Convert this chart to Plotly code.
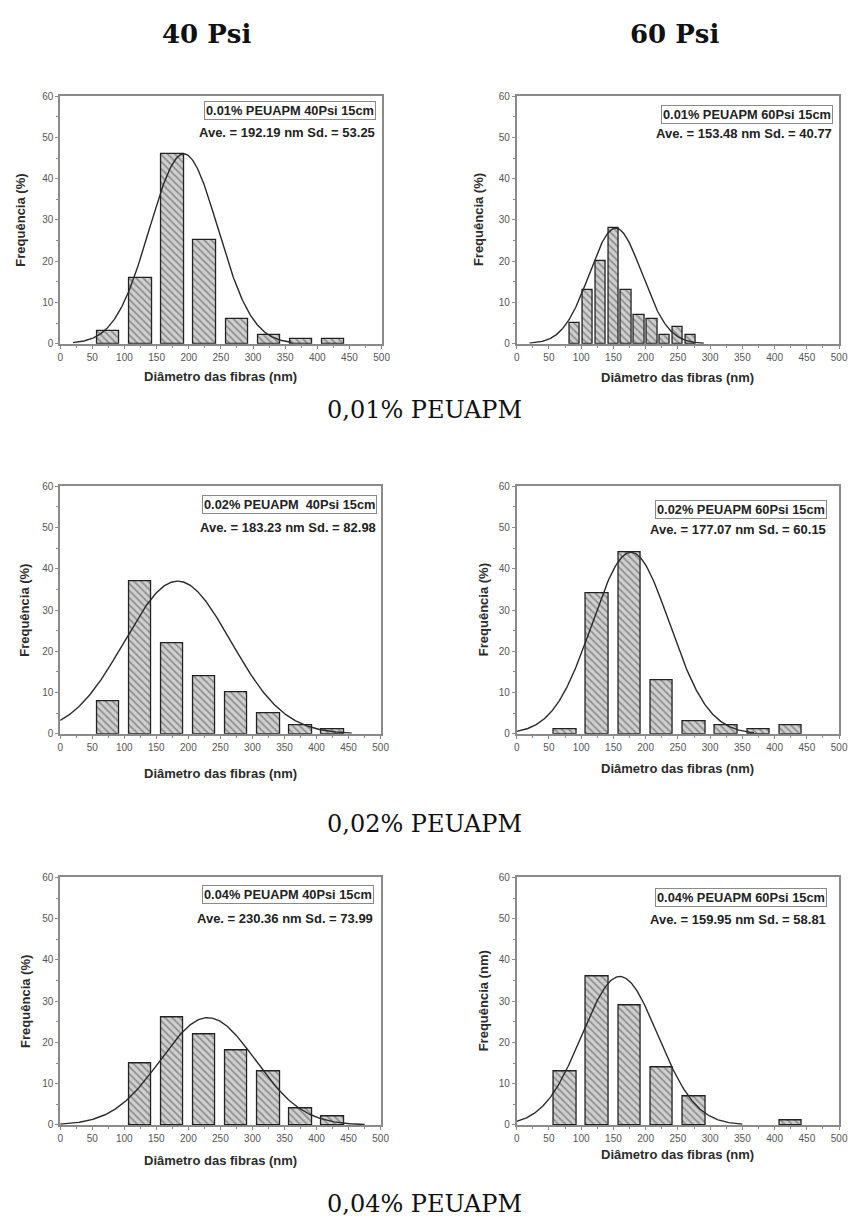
import numpy as np
import plotly.graph_objects as go

W, H = 855, 1229

# ---- data -------------------------------------------------------------
centers_50 = [75, 125, 175, 225, 275, 325, 375, 425]
centers_20 = [90, 110, 130, 150, 170, 190, 210, 230, 250, 270]
centers_004_40 = [125, 175, 225, 275, 325, 375, 425]
centers_004_60 = [75, 125, 175, 225, 275, 425]

freq_001_40 = [3, 16, 46, 25, 6, 2, 1, 1]
freq_001_60 = [5, 13, 20, 28, 13, 7, 6, 2, 4, 2]
freq_002_40 = [8, 37, 22, 14, 10, 5, 2, 1]
freq_002_60 = [1, 34, 44, 13, 3, 2, 1, 2]
freq_004_40 = [15, 26, 22, 18, 13, 4, 2]
freq_004_60 = [13, 36, 29, 14, 7, 1]

# Gaussian fits: mean, standard deviation, peak height, x-range drawn
fit_mean = [192.19, 153.48, 183.23, 177.07, 230.36, 159.95]
fit_sd = [53.25, 40.77, 82.98, 60.15, 73.99, 58.81]
fit_peak = [46, 28, 37, 44, 26, 36]
fit_start = [20, 20, 0, 0, 0, 0]
fit_end = [360, 290, 455, 368, 475, 350]

sample_labels = [
    "0.01% PEUAPM 40Psi 15cm",
    "0.01% PEUAPM 60Psi 15cm",
    "0.02% PEUAPM\u00a0 40Psi 15cm",
    "0.02% PEUAPM 60Psi 15cm",
    "0.04% PEUAPM 40Psi 15cm",
    "0.04% PEUAPM 60Psi 15cm",
]
y_titles = ["Frequência (%)"] * 5 + ["Frequência (nm)"]
x_title = "Diâmetro das fibras (nm)"
column_titles = ["40 Psi", "60 Psi"]
row_captions = ["0,01% PEUAPM", "0,02% PEUAPM", "0,04% PEUAPM"]

bar_centers = [centers_50, centers_20, centers_50, centers_50, centers_004_40, centers_004_60]
bar_values = [freq_001_40, freq_001_60, freq_002_40, freq_002_60, freq_004_40, freq_004_60]
bar_widths = [35, 16, 35, 35, 35, 35]

# ---- layout geometry (pixels: left, right, top, bottom of plot area) --
boxes = [
    (58, 384, 91, 341), (521, 848, 91, 341),
    (58, 383, 485, 735), (521, 848, 485, 735),
    (58, 383, 880, 1130), (521, 848, 880, 1130),
]
xtitle_y = [374, 375, 775, 770, 1166, 1160]
ytitle_x = [18, 483, 21, 487, 22, 487]
label_box = [(378, 105.5, 128), (842, 110, 129), (379, 503, 527),
             (836, 508, 529), (376, 897, 922), (836, 900, 923)]


def px(x):
    return x / W


def py(y):
    return 1 - y / H


SANS = "Arial, Liberation Sans, sans-serif"
fig = go.Figure()
annotations = []
layout_axes = {}

for i in range(6):
    sfx = "" if i == 0 else str(i + 1)
    xa, ya = "x" + sfx, "y" + sfx
    l, r, t, b = boxes[i]

    fig.add_trace(go.Bar(
        x=bar_centers[i], y=bar_values[i], width=bar_widths[i],
        xaxis=xa, yaxis=ya, showlegend=False,
        marker=dict(
            color="#cfcfcf",
            line=dict(color="#222222", width=1.3),
            pattern=dict(shape="\\", fgcolor="#505050", bgcolor="#d0d0d0",
                         size=5, solidity=0.35),
        ),
    ))

    xs = np.linspace(fit_start[i], fit_end[i], 300)
    ys = fit_peak[i] * np.exp(-(xs - fit_mean[i]) ** 2 / (2 * fit_sd[i] ** 2))
    fig.add_trace(go.Scatter(
        x=xs, y=ys, mode="lines", xaxis=xa, yaxis=ya, showlegend=False,
        line=dict(color="#2a2a2a", width=1.4),
    ))

    axis_common = dict(
        showline=True, linecolor="#8a8a8a", linewidth=1.8, mirror=True,
        showgrid=False, zeroline=False, ticks="outside", ticklen=3,
        tickcolor="#8a8a8a", tickwidth=1,
        tickfont=dict(family=SANS, size=10, color="#555555"),
    )
    layout_axes["xaxis" + sfx] = dict(
        axis_common, domain=[px(l), px(r)], anchor=ya, range=[0, 500],
        tickvals=[0, 50, 100, 150, 200, 250, 300, 350, 400, 450, 500],
        minor=dict(ticks="outside", ticklen=2, tickcolor="#8a8a8a", dtick=25, tick0=0),
    )
    layout_axes["yaxis" + sfx] = dict(
        axis_common, domain=[py(b), py(t)], anchor=xa, range=[0, 60],
        tickvals=[0, 10, 20, 30, 40, 50, 60],
        minor=dict(ticks="outside", ticklen=2, tickcolor="#8a8a8a", dtick=5, tick0=0),
    )

    # axis titles
    annotations.append(dict(
        text=x_title, xref="paper", yref="paper", x=px((l + r) / 2), y=py(xtitle_y[i]),
        xanchor="center", yanchor="middle", showarrow=False,
        font=dict(family=SANS, size=13, color="#2b2b2b", weight="bold"),
    ))
    annotations.append(dict(
        text=y_titles[i], xref="paper", yref="paper", x=px(ytitle_x[i]), y=py((t + b) / 2),
        xanchor="center", yanchor="middle", showarrow=False, textangle=-90,
        font=dict(family=SANS, size=13, color="#2b2b2b", weight="bold"),
    ))

    # sample label box and statistics line
    rx, y1, y2 = label_box[i]
    annotations.append(dict(
        text=sample_labels[i], xref="paper", yref="paper", x=px(rx), y=py(y1),
        xanchor="right", yanchor="middle", showarrow=False,
        bordercolor="#8a8a8a", borderwidth=1, borderpad=1,
        font=dict(family=SANS, size=12.8, color="#222222", weight="bold"),
    ))
    annotations.append(dict(
        text=f"Ave. = {fit_mean[i]:.2f} nm Sd. = {fit_sd[i]:.2f}",
        xref="paper", yref="paper", x=px(rx + 1), y=py(y2),
        xanchor="right", yanchor="middle", showarrow=False,
        font=dict(family=SANS, size=13, color="#222222", weight="bold"),
    ))

# column headers
for cx, txt in zip([206, 681], column_titles):
    annotations.append(dict(
        text=txt, xref="paper", yref="paper", x=px(cx), y=py(28),
        xanchor="center", yanchor="middle", showarrow=False,
        font=dict(family="DejaVu Serif, serif", size=26, color="#111111", weight="bold"),
    ))

# row captions
for cy, txt in zip([408, 826, 1210], row_captions):
    annotations.append(dict(
        text=txt, xref="paper", yref="paper", x=px(428), y=py(cy),
        xanchor="center", yanchor="middle", showarrow=False,
        font=dict(family="DejaVu Serif, serif", size=24, color="#111111"),
    ))

fig.update_layout(
    width=W, height=H, margin=dict(l=0, r=0, t=0, b=0),
    paper_bgcolor="white", plot_bgcolor="white",
    annotations=annotations, bargap=0, **layout_axes,
)

fig.write_html("out.html")
